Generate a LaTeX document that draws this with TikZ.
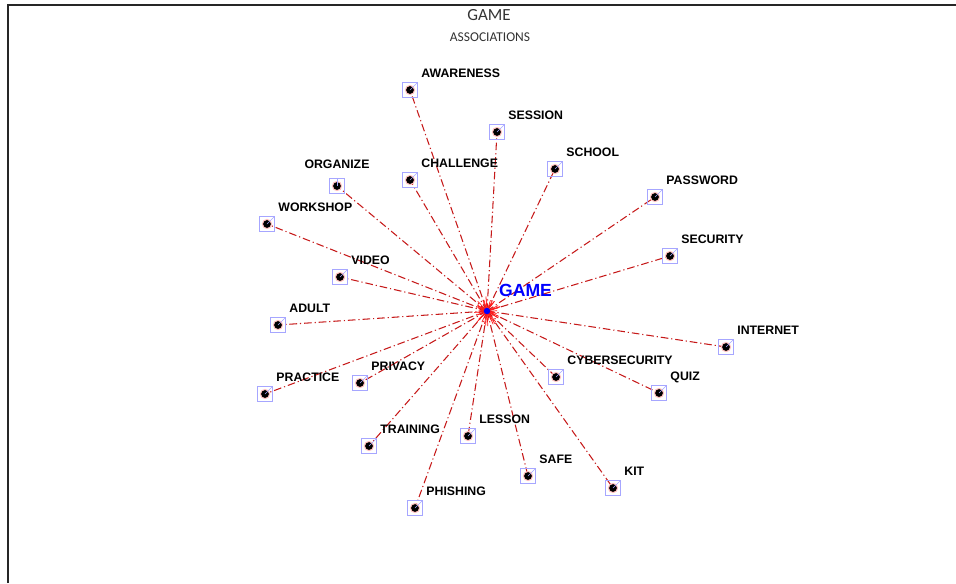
\documentclass[tikz,border=0pt]{standalone}
\usepackage{fontspec}
\setmainfont{Liberation Sans}
\newfontfamily\titlefont{Carlito}
\usetikzlibrary{positioning,backgrounds}

\tikzset{
	% small framed word marker with its dot and pointer
	term/.style={rectangle, draw=blue!35, line width=0.6pt, minimum size=12.5pt, inner sep=0pt,
		path picture={
			\fill[red!25] (path picture bounding box.center) circle (4.4pt);
			\fill[black] (path picture bounding box.center) circle (3.3pt);
			\draw[line width=0.5pt] (path picture bounding box.center) -- (path picture bounding box.#1);
		}},
	term/.default=north east,
	word/.style={font=\bfseries\fontsize{10.5}{12}\selectfont, inner sep=0pt, text depth=0pt},
	link/.style={draw=red!75!black!90!white, line width=0.9pt, dash pattern=on 6.5pt off 2.5pt on 1pt off 2.5pt}
}

\begin{document}
\begin{tikzpicture}[x=0.3mm, y=-0.3mm]
	\useasboundingbox (0,0) rectangle (956,583);
	
	% --- FRAME AND TITLE ---
	\draw[line width=1.2pt, black!85] (8,583) -- (8,5) -- (956,5);
	\node[font=\titlefont\fontsize{14.5}{16}\selectfont, text=black!80] (title) at (489,15) {GAME};
	\node[font=\titlefont\fontsize{11.5}{13}\selectfont, text=black!80] (subtitle) at (490,37) {ASSOCIATIONS};
	
	% --- HUB ---
	\node[circle, fill=blue, inner sep=0pt, minimum size=5.5pt] (hub) at (487,311) {};
	\node[anchor=south west, inner sep=0pt, text=blue, font=\bfseries\fontsize{15}{17}\selectfont] (hubword) at (499,297) {GAME};
	
	% --- ASSOCIATED WORDS ---
	% Format: \node[term] (name) at (x,y) {}; then its word above right
	
	\node[term] (awareness) at (410,90) {};
	\node[term] (session) at (497,132) {};
	\node[term] (school) at (555,169) {};
	\node[term] (password) at (655,197) {};
	\node[term] (security) at (670,256) {};
	\node[term] (internet) at (726,347) {};
	\node[term] (quiz) at (659,393) {};
	\node[term] (cyber) at (556,377) {};
	\node[term] (kit) at (613,488) {};
	\node[term] (safe) at (528,476) {};
	\node[term] (lesson) at (468,436) {};
	\node[term] (phishing) at (415,508) {};
	\node[term] (training) at (369,446) {};
	\node[term] (privacy) at (360,383) {};
	\node[term] (practice) at (265,394) {};
	\node[term] (adult) at (278,325) {};
	\node[term] (video) at (340,277) {};
	\node[term] (workshop) at (267,224) {};
	\node[term=north] (organize) at (337,186) {};
	\node[term] (challenge) at (410,180) {};
	
	\node[word, above right=4pt and 3pt of awareness.north east] (awarenessw) {AWARENESS};
	\node[word, above right=4pt and 3pt of session.north east] (sessionw) {SESSION};
	\node[word, above right=4pt and 3pt of school.north east] (schoolw) {SCHOOL};
	\node[word, above right=4pt and 3pt of password.north east] (passwordw) {PASSWORD};
	\node[word, above right=4pt and 3pt of security.north east] (securityw) {SECURITY};
	\node[word, above right=4pt and 3pt of internet.north east] (internetw) {INTERNET};
	\node[word, above right=4pt and 3pt of quiz.north east] (quizw) {QUIZ};
	\node[word, above right=4pt and 3pt of cyber.north east] (cyberw) {CYBERSECURITY};
	\node[word, above right=4pt and 3pt of kit.north east] (kitw) {KIT};
	\node[word, above right=4pt and 3pt of safe.north east] (safew) {SAFE};
	\node[word, above right=4pt and 3pt of lesson.north east] (lessonw) {LESSON};
	\node[word, above right=4pt and 3pt of phishing.north east] (phishingw) {PHISHING};
	\node[word, above right=4pt and 3pt of training.north east] (trainingw) {TRAINING};
	\node[word, above right=4pt and 3pt of privacy.north east] (privacyw) {PRIVACY};
	\node[word, above right=4pt and 3pt of practice.north east] (practicew) {PRACTICE};
	\node[word, above right=4pt and 3pt of adult.north east] (adultw) {ADULT};
	\node[word, above right=4pt and 3pt of video.north east] (videow) {VIDEO};
	\node[word, above right=4pt and 3pt of workshop.north east] (workshopw) {WORKSHOP};
	\node[word, above=8pt of organize.north] (organizew) {ORGANIZE};
	\node[word, above right=4pt and 3pt of challenge.north east] (challengew) {CHALLENGE};
	
	% --- LINKS ---
	\begin{scope}[on background layer]
		\draw[link] (hub.center) -- (awareness.center);
		\draw[link] (hub.center) -- (session.center);
		\draw[link] (hub.center) -- (school.center);
		\draw[link] (hub.center) -- (password.center);
		\draw[link] (hub.center) -- (security.center);
		\draw[link] (hub.center) -- (internet.center);
		\draw[link] (hub.center) -- (quiz.center);
		\draw[link] (hub.center) -- (cyber.center);
		\draw[link] (hub.center) -- (kit.center);
		\draw[link] (hub.center) -- (safe.center);
		\draw[link] (hub.center) -- (lesson.center);
		\draw[link] (hub.center) -- (phishing.center);
		\draw[link] (hub.center) -- (training.center);
		\draw[link] (hub.center) -- (privacy.center);
		\draw[link] (hub.center) -- (practice.center);
		\draw[link] (hub.center) -- (adult.center);
		\draw[link] (hub.center) -- (video.center);
		\draw[link] (hub.center) -- (workshop.center);
		\draw[link] (hub.center) -- (organize.center);
		\draw[link] (hub.center) -- (challenge.center);
		% red burst round the hub
		\pgfmathsetseed{7}
		\foreach \a in {0,8,...,352}
			\draw[red!90, line width=0.6pt] (hub.center) -- ++({\a+4*rand}:{(10+3*rand)*1pt});
	\end{scope}
	
\end{tikzpicture}
\end{document}
